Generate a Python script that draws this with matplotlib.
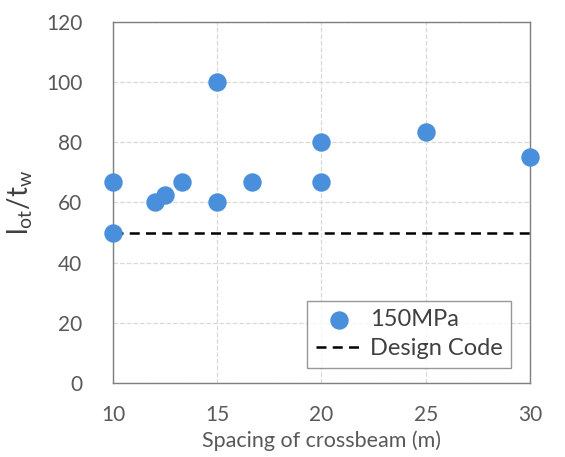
import matplotlib
matplotlib.use("Agg")
import matplotlib.pyplot as plt

# data
spacing = [10, 10, 12, 12.5, 13.33, 15, 15, 16.67, 20, 20, 25, 30]
ratio = [66.7, 50, 60, 62.5, 66.7, 100, 60, 66.7, 80, 66.7, 83.3, 75]
code_x = [10, 30]
code_y = [50, 50]

plt.rcParams['font.family'] = ['Lato', 'DejaVu Sans']

fig = plt.figure(figsize=(5.65, 4.57), dpi=100)
ax = fig.add_axes([0.2, 0.162, 0.738, 0.79])

ax.scatter(spacing, ratio, s=150, color='#4a8fdb', zorder=3, label='150MPa',
           clip_on=False)
ax.plot(code_x, code_y, color='black', linestyle='--', dashes=(4, 2.5),
        linewidth=1.8, zorder=2, label='Design Code')

ax.set_xlim(10, 30)
ax.set_ylim(0, 120)
ax.set_xticks([10, 15, 20, 25, 30])
ax.set_yticks(range(0, 121, 20))
ax.grid(True, color='#d9d9d9', linestyle='--', linewidth=0.9)
ax.set_axisbelow(True)

for s in ax.spines.values():
    s.set_color('#7f7f7f')
    s.set_linewidth(1.0)
ax.tick_params(length=0, labelsize=15, colors='#595959')
ax.tick_params(axis='x', pad=16)
ax.tick_params(axis='y', pad=22)

ax.set_xlabel('Spacing of crossbeam (m)', fontsize=15.5, color='#595959',
              labelpad=4)
ax.set_ylabel(r'$\mathregular{l_{ot}/t_w}$', fontsize=20, color='#404040',
              labelpad=8)

leg = ax.legend(loc='lower right', fontsize=17, frameon=True, fancybox=False,
                edgecolor='#7f7f7f', handlelength=2.0, handletextpad=0.3,
                borderpad=0.35, labelspacing=0.35,
                bbox_to_anchor=(0.983, 0.01))
leg.get_frame().set_linewidth(1.0)
for t in leg.get_texts():
    t.set_color('#404040')

fig.savefig('out.png', dpi=100)
